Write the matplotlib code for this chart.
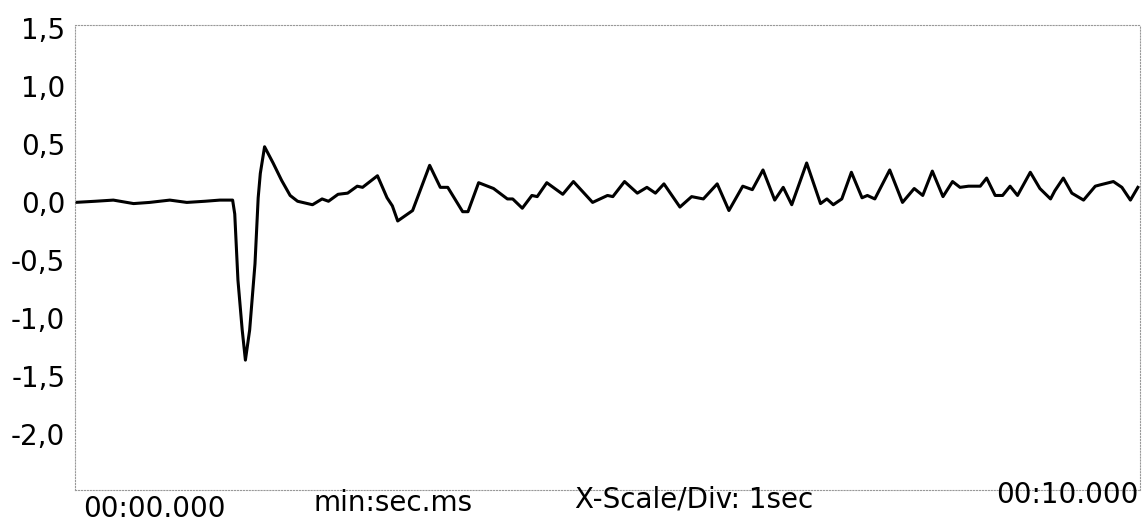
import numpy as np
import matplotlib.pyplot as plt

# --- Trace (time in s, amplitude) ---
t_sec = [0.00, 0.19, 0.36, 0.55, 0.70, 0.89, 1.05, 1.22, 1.36, 1.48,
         1.50, 1.53, 1.57, 1.60, 1.64, 1.69, 1.72, 1.74, 1.78, 1.86,
         1.94, 2.02, 2.09, 2.23, 2.32, 2.38, 2.47, 2.56, 2.65, 2.70,
         2.84, 2.93, 2.98, 3.03,
         3.17, 3.33, 3.43, 3.50, 3.64, 3.69, 3.79, 3.93, 4.06, 4.11,
         4.20, 4.29, 4.34, 4.43, 4.58, 4.68, 4.86, 5.00, 5.05, 5.16,
         5.28, 5.37, 5.45, 5.53, 5.68, 5.79, 5.90, 6.03, 6.14, 6.27,
         6.36, 6.46, 6.57, 6.65, 6.73, 6.87, 7.00, 7.06, 7.12, 7.20,
         7.29, 7.39, 7.44, 7.51, 7.65, 7.77, 7.88, 7.96, 8.05, 8.15,
         8.24, 8.31, 8.39, 8.50, 8.56, 8.64, 8.71, 8.78, 8.85, 8.97,
         9.06, 9.16, 9.20, 9.28, 9.36, 9.47, 9.58, 9.62, 9.75, 9.83,
         9.91, 9.98]
amp = [0.00, 0.01, 0.02, -0.01, 0.00, 0.02, 0.00, 0.01, 0.02, 0.02,
       -0.10, -0.67, -1.10, -1.36, -1.10, -0.53, 0.04, 0.25, 0.48, 0.34,
       0.19, 0.06, 0.01, -0.02, 0.03, 0.01, 0.07, 0.08, 0.14, 0.13,
       0.23, 0.04, -0.03, -0.16,
       -0.07, 0.32, 0.13, 0.13, -0.08, -0.08, 0.17, 0.12, 0.03, 0.03,
       -0.05, 0.06, 0.05, 0.17, 0.07, 0.18, 0.00, 0.06, 0.05, 0.18,
       0.08, 0.13, 0.08, 0.16, -0.04, 0.05, 0.03, 0.16, -0.07, 0.14,
       0.11, 0.28, 0.02, 0.13, -0.02, 0.34, -0.01, 0.03, -0.02, 0.03,
       0.26, 0.04, 0.06, 0.03, 0.28, 0.00, 0.12, 0.06, 0.27, 0.05,
       0.18, 0.13, 0.14, 0.14, 0.21, 0.06, 0.06, 0.14, 0.06, 0.26,
       0.12, 0.03, 0.10, 0.21, 0.08, 0.02, 0.14, 0.15, 0.18, 0.13,
       0.02, 0.13]

y_ticks = [1.5, 1.0, 0.5, 0.0, -0.5, -1.0, -1.5, -2.0]
y_labels = ['1,5', '1,0', '0,5', '0,0', '-0,5', '-1,0', '-1,5', '-2,0']

W, H = 1147, 525
fig = plt.figure(figsize=(W / 100, H / 100), dpi=100)
ax = fig.add_axes([75 / W, 1 - 490 / H, (1140 - 75) / W, (490 - 25) / H])

ax.plot(t_sec, amp, color='black', lw=2.2, solid_joinstyle='round')
ax.set_xlim(0, 10)
ax.set_ylim(-2.48, 1.53)

ax.set_yticks(y_ticks)
ax.set_yticklabels(y_labels, fontsize=20)
ax.set_xticks([])
ax.tick_params(axis='y', length=0, pad=7)

for s in ax.spines.values():
    s.set_linestyle(':')
    s.set_color('#999999')
    s.set_linewidth(0.8)

# bottom annotations
fig.text(83 / W, 1 - 509 / H, '00:00.000', fontsize=20, va='center', ha='left')
fig.text(313 / W, 1 - 503 / H, 'min:sec.ms', fontsize=20, va='center', ha='left')
fig.text(694 / W, 1 - 499 / H, 'X-Scale/Div: 1sec', fontsize=20, va='center', ha='center')
fig.text(1138 / W, 1 - 495 / H, '00:10.000', fontsize=20, va='center', ha='right')

fig.savefig('out.png', dpi=100)
